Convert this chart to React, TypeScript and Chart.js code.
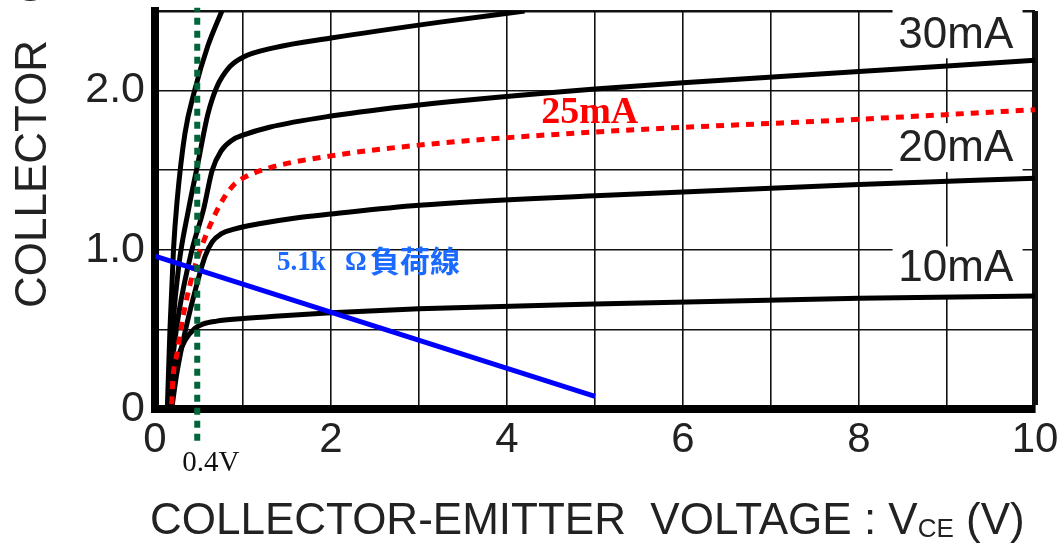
import React, { useEffect, useRef } from 'react';
import { Chart, registerables } from 'chart.js';

Chart.register(...registerables);

// ---- tick labels ----
const xTickValues = [0, 2, 4, 6, 8, 10];
const xTickLabels = ['0', '2', '4', '6', '8', '10'];
const yTickValues = [0, 1, 2];
const yTickLabels = ['0', '1.0', '2.0'];

// ---- characteristic curves (VCE in V, IC) ----
const ib10X = [0.14, 0.17, 0.25, 0.34, 0.45, 0.55, 0.7, 1.0, 1.36, 2, 3, 5, 8, 10];
const ib10Y = [0, 0.14, 0.31, 0.43, 0.505, 0.535, 0.552, 0.568, 0.583, 0.605, 0.63, 0.66, 0.695, 0.71];

const ib20X = [0.19, 0.22, 0.25, 0.34, 0.45, 0.57, 0.65, 0.75, 0.9, 1.2, 1.6, 2, 3, 5, 8, 10];
const ib20Y = [0, 0.12, 0.23, 0.48, 0.73, 0.96, 1.05, 1.1, 1.13, 1.165, 1.2, 1.225, 1.28, 1.34, 1.41, 1.45];

const ib25X = [0.19, 0.2, 0.25, 0.34, 0.45, 0.55, 0.68, 0.8, 0.9, 1.0, 1.27, 2, 3.24, 5, 8, 10];
const ib25Y = [0.03, 0.16, 0.35, 0.64, 0.89, 1.05, 1.22, 1.34, 1.41, 1.45, 1.51, 1.59, 1.67, 1.74, 1.82, 1.88];

const ib30X = [0.16, 0.2, 0.27, 0.42, 0.55, 0.65, 0.75, 0.88, 1.0, 1.3, 2, 3, 5, 6, 8, 10];
const ib30Y = [0, 0.3, 0.6, 1.0, 1.25, 1.5, 1.62, 1.69, 1.72, 1.77, 1.84, 1.91, 2.01, 2.05, 2.12, 2.19];

const ib40X = [0.15, 0.2, 0.27, 0.38, 0.49, 0.6, 0.7, 0.85, 1.0, 1.36, 2, 3.24, 4.2];
const ib40Y = [0, 0.5, 0.9, 1.25, 1.55, 1.85, 2.02, 2.15, 2.21, 2.27, 2.33, 2.43, 2.5];

const ib50X = [0.14, 0.17, 0.21, 0.25, 0.34, 0.45, 0.6, 0.76];
const ib50Y = [0, 0.5, 1.0, 1.3, 1.73, 2.0, 2.28, 2.5];

// 5.1k load line
const loadX = [0, 5];
const loadY = [0.96, 0.08];

// 0.4V marker
const markX = [0.48, 0.48];
const markY = [-0.2, 2.52];

const curveLabelTexts = ['30mA', '20mA', '10mA'];

const pts = (xs: number[], ys: number[]) => xs.map((x, i) => ({ x, y: ys[i] }));

const SANS = '"Liberation Sans", Arial, sans-serif';
const SERIF = '"Liberation Serif", "Times New Roman", serif';

const annotPlugin = {
  id: 'annot',
  beforeDatasetsDraw(chart: any) {
    const { ctx, scales } = chart;
    const xs = scales.x;
    const ys = scales.y;
    const anchors = [
      [9.12, 2.36],
      [9.12, 1.645],
      [9.12, 0.87],
    ];
    ctx.save();
    ctx.fillStyle = '#ffffff';
    anchors.forEach(([vx, vy]) => {
      const cx = xs.getPixelForValue(vx);
      const cy = ys.getPixelForValue(vy);
      ctx.fillRect(cx - 65, cy - 24, 130, 49);
    });
    ctx.restore();
  },
  afterDatasetsDraw(chart: any) {
    const { ctx, scales } = chart;
    const xs = scales.x;
    const ys = scales.y;
    ctx.save();
    // current labels
    ctx.fillStyle = '#222';
    ctx.font = `44px ${SANS}`;
    ctx.textAlign = 'center';
    ctx.textBaseline = 'middle';
    const anchors = [
      [9.1, 2.343],
      [9.1, 1.633],
      [9.1, 0.879],
    ];
    curveLabelTexts.forEach((t, i) => {
      ctx.fillText(t, xs.getPixelForValue(anchors[i][0]), ys.getPixelForValue(anchors[i][1]));
    });
    // 25mA
    ctx.fillStyle = '#ff0000';
    ctx.font = `bold 38px ${SERIF}`;
    ctx.textAlign = 'center';
    ctx.textBaseline = 'alphabetic';
    ctx.fillText('25mA', xs.getPixelForValue(4.94), ys.getPixelForValue(1.798));
    // load line label
    ctx.fillStyle = '#1a6aff';
    ctx.textAlign = 'left';
    const lx = xs.getPixelForValue(1.386);
    const ly = ys.getPixelForValue(0.87);
    ctx.font = `bold 27px ${SERIF}`;
    ctx.fillText('5.1k', lx, ly);
    ctx.fillText('Ω', lx + 68, ly);
    ctx.font = `bold 30px "Noto Sans CJK TC", "Noto Sans CJK JP", sans-serif`;
    ctx.fillText('負荷線', lx + 93, ly + 2);
    ctx.restore();
  },
  afterDraw(chart: any) {
    const { ctx, scales } = chart;
    const xs = scales.x;
    ctx.save();
    ctx.fillStyle = '#222';
    ctx.textBaseline = 'alphabetic';
    ctx.textAlign = 'left';
    // x axis title with subscript
    let x0 = 150;
    const main1 = 'COLLECTOR-EMITTER  VOLTAGE : V';
    ctx.font = `44px ${SANS}`;
    ctx.fillText(main1, x0, 534);
    x0 += ctx.measureText(main1).width;
    ctx.font = `26px ${SANS}`;
    ctx.fillText('CE', x0, 537);
    x0 += ctx.measureText('CE').width;
    ctx.font = `44px ${SANS}`;
    ctx.fillText(' (V)', x0, 534);
    // y axis title (rotated, overflowing top)
    ctx.save();
    ctx.translate(46, 308);
    ctx.rotate(-Math.PI / 2);
    ctx.font = `44px ${SANS}`;
    ctx.fillText('COLLECTOR   CURRENT : IC (A)', 0, 0);
    ctx.restore();
    // 0.4V label
    ctx.fillStyle = '#111';
    ctx.font = `29px ${SERIF}`;
    ctx.fillText('0.4V', xs.getPixelForValue(0.31), 471);
    ctx.restore();
  },
};

export default function App() {
  const canvasRef = useRef<HTMLCanvasElement | null>(null);

  useEffect(() => {
    const canvas = canvasRef.current;
    if (!canvas) return;
    const black = (label: string, xs: number[], ys: number[]) => ({
      label,
      data: pts(xs, ys),
      borderColor: '#000000',
      borderWidth: 5,
      showLine: true,
      pointRadius: 0,
      cubicInterpolationMode: 'monotone' as const,
      fill: false,
    });
    const chart = new Chart(canvas, {
      type: 'scatter',
      data: {
        datasets: [
          {
            label: '0.4V',
            data: pts(markX, markY),
            borderColor: '#00663a',
            borderWidth: 6,
            borderDash: [7, 6],
            showLine: true,
            pointRadius: 0,
            clip: false,
          } as any,
          {
            label: '5.1kΩ',
            data: pts(loadX, loadY),
            borderColor: '#0000ff',
            borderWidth: 5,
            showLine: true,
            pointRadius: 0,
          },
          {
            label: '25mA',
            data: pts(ib25X, ib25Y),
            borderColor: '#ff0000',
            borderWidth: 5,
            borderDash: [8, 7],
            showLine: true,
            pointRadius: 0,
            cubicInterpolationMode: 'monotone',
          },
          black('10mA', ib10X, ib10Y),
          black('20mA', ib20X, ib20Y),
          black('30mA', ib30X, ib30Y),
          black('40mA', ib40X, ib40Y),
          black('50mA', ib50X, ib50Y),
        ],
      },
      options: {
        responsive: false,
        animation: false,
        devicePixelRatio: 1,
        layout: { padding: { top: 11, right: 28, left: 0, bottom: 0 } },
        plugins: {
          legend: { display: false },
          tooltip: { enabled: false },
          title: { display: false },
        },
        scales: {
          x: {
            type: 'linear',
            min: 0,
            max: 10,
            ticks: {
              stepSize: 1,
              autoSkip: false,
              maxRotation: 0,
              padding: 6,
              color: '#222',
              font: { family: SANS, size: 42 },
              callback: (v: any) => {
                const i = xTickValues.indexOf(Number(v));
                return i >= 0 ? xTickLabels[i] : '';
              },
            },
            grid: {
              color: '#111',
              lineWidth: (c: any) => (c.tick && c.tick.value === 10 ? 6 : 1.6),
              drawTicks: false,
            },
            border: { display: true, color: '#000', width: 8 },
            afterFit: (s: any) => {
              s.height = 136;
              s.paddingLeft = 0;
              s.paddingRight = 0;
            },
          },
          y: {
            type: 'linear',
            min: 0,
            max: 2.5,
            ticks: {
              stepSize: 0.5,
              autoSkip: false,
              padding: 10,
              color: '#222',
              font: { family: SANS, size: 43 },
              callback: (v: any) => {
                const i = yTickValues.indexOf(Number(v));
                return i >= 0 ? yTickLabels[i] : '';
              },
            },
            grid: {
              color: '#111',
              lineWidth: (c: any) => (c.tick && c.tick.value === 2.5 ? 2.5 : 1.6),
              drawTicks: false,
            },
            border: { display: true, color: '#000', width: 8 },
            afterFit: (s: any) => {
              s.width = 155;
              s.paddingTop = 0;
              s.paddingBottom = 0;
            },
          },
        },
      } as any,
      plugins: [annotPlugin],
    });
    return () => chart.destroy();
  }, []);

  return (
    <div style={{ position: 'absolute', left: 0, top: 0, width: 1063, height: 545, background: '#fff' }}>
      <canvas ref={canvasRef} width={1063} height={545} style={{ width: 1063, height: 545, display: 'block' }} />
    </div>
  );
}
